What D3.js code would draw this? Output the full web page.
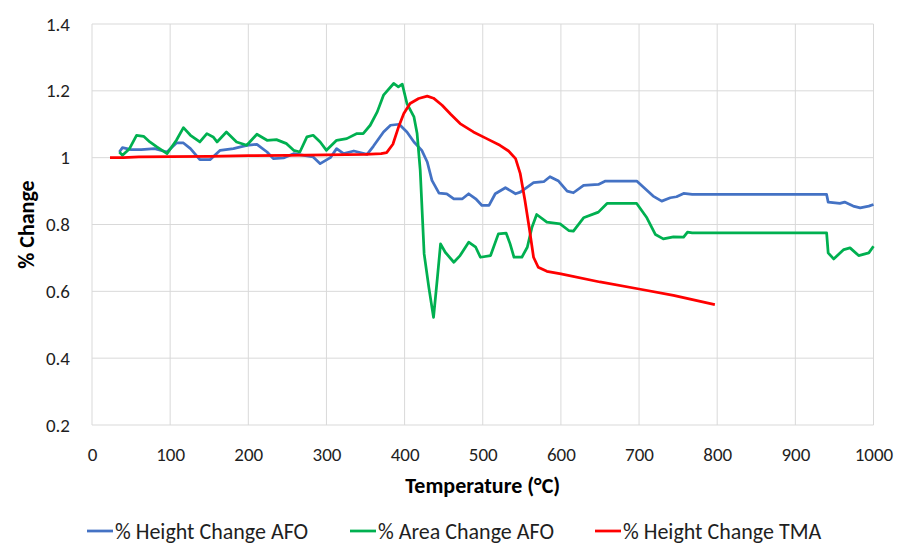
<!DOCTYPE html>
<html>
<head>
<meta charset="utf-8">
<script src="https://cdn.jsdelivr.net/npm/d3@7"></script>
<style>
  body { margin: 0; background: #fff; }
  text { font-family: Carlito, Calibri, Lato, sans-serif; }
</style>
</head>
<body>
<div id="chart"></div>
<script>
var width = 905,
    height = 548;

var margin = {top: 24, right: 31.5, bottom: 123, left: 92};

var xTicks = [0, 100, 200, 300, 400, 500, 600, 700, 800, 900, 1000];
var yTicks = [0.2, 0.4, 0.6, 0.8, 1, 1.2, 1.4];

var seriesNames = ["% Height Change AFO", "% Area Change AFO", "% Height Change TMA"];
var seriesColors = ["#4472c4", "#00b050", "#ff0000"];

// % Height Change AFO
var heightAfoT = [35, 39, 50, 63, 80, 96, 108, 117, 126, 138, 151, 164, 181, 198, 211, 224, 232, 245, 258, 271,
    283, 292, 305, 313, 322, 335, 352, 360, 373, 382, 393, 403, 412, 422, 429, 435, 444, 454, 463, 474,
    482, 491, 499, 508, 516, 529, 542, 548, 557, 565, 578, 586, 597, 608, 616, 629, 648, 657, 697, 718,
    729, 740, 748, 757, 768, 940, 942, 957, 963, 974, 983, 994, 1000];
var heightAfoV = [1.017, 1.03, 1.024, 1.024, 1.027, 1.017, 1.044, 1.044, 1.027, 0.994, 0.994, 1.022, 1.027, 1.037, 1.04, 1.017, 0.997, 0.999, 1.012, 1.007,
    1.002, 0.982, 1.0, 1.027, 1.012, 1.02, 1.01, 1.034, 1.077, 1.097, 1.1, 1.077, 1.047, 1.022, 0.987, 0.932, 0.894, 0.892, 0.877, 0.877,
    0.892, 0.877, 0.857, 0.857, 0.892, 0.91, 0.892, 0.897, 0.912, 0.925, 0.928, 0.943, 0.93, 0.9, 0.895, 0.917, 0.92, 0.93, 0.93, 0.885,
    0.87, 0.88, 0.883, 0.893, 0.89, 0.89, 0.867, 0.863, 0.867, 0.855, 0.85, 0.855, 0.86];

// % Area Change AFO
var areaAfoT = [35, 39, 48, 57, 66, 74, 83, 96, 108, 117, 126, 138, 147, 155, 160, 172, 185, 198, 211, 224,
    236, 249, 258, 266, 275, 283, 292, 300, 313, 326, 339, 347, 356, 365, 373, 386, 392, 397, 403, 412,
    416, 420, 425, 431, 437, 442, 446, 452, 463, 471, 482, 491, 497, 510, 520, 530, 535, 540, 550, 557,
    563, 569, 582, 599, 610, 616, 629, 648, 659, 697, 710, 721, 731, 744, 757, 762, 768, 940, 942, 949,
    962, 970, 981, 994, 1000];
var areaAfoV = [1.017, 1.007, 1.027, 1.067, 1.064, 1.047, 1.032, 1.012, 1.052, 1.09, 1.067, 1.047, 1.072, 1.062, 1.047, 1.077, 1.047, 1.037, 1.07, 1.052,
    1.054, 1.042, 1.022, 1.017, 1.062, 1.067, 1.047, 1.022, 1.052, 1.057, 1.072, 1.072, 1.097, 1.137, 1.187, 1.222, 1.212, 1.22, 1.162, 1.122,
    1.072, 0.962, 0.712, 0.612, 0.522, 0.642, 0.742, 0.717, 0.687, 0.707, 0.747, 0.732, 0.702, 0.707, 0.772, 0.774, 0.742, 0.702, 0.702, 0.732,
    0.792, 0.83, 0.807, 0.802, 0.782, 0.78, 0.82, 0.837, 0.863, 0.863, 0.82, 0.77, 0.757, 0.763, 0.762, 0.777, 0.775, 0.775, 0.715, 0.697,
    0.725, 0.73, 0.707, 0.715, 0.735];

// % Height Change TMA
var heightTmaT = [23, 40, 60, 100, 150, 200, 250, 300, 350, 370, 377, 385, 392, 399, 407, 418, 429, 437, 448, 459,
    471, 488, 505, 522, 533, 542, 548, 554, 560, 565, 571, 582, 600, 650, 700, 744, 797];
var heightTmaV = [1.0, 1.0, 1.002, 1.003, 1.004, 1.006, 1.007, 1.008, 1.01, 1.012, 1.015, 1.04, 1.09, 1.132, 1.162, 1.177, 1.184, 1.178, 1.157, 1.13,
    1.102, 1.077, 1.057, 1.037, 1.02, 0.997, 0.952, 0.872, 0.782, 0.702, 0.672, 0.66, 0.652, 0.628, 0.607, 0.588, 0.56];

var series = [
    {name: seriesNames[0], color: seriesColors[0], t: heightAfoT, v: heightAfoV},
    {name: seriesNames[1], color: seriesColors[1], t: areaAfoT, v: areaAfoV},
    {name: seriesNames[2], color: seriesColors[2], t: heightTmaT, v: heightTmaV}
];

var svg = d3.select("#chart").append("svg")
    .attr("width", width)
    .attr("height", height);

var x = d3.scaleLinear().domain([0, 1000]).range([margin.left, width - margin.right]);
var y = d3.scaleLinear().domain([0.2, 1.4]).range([height - margin.bottom, margin.top]);

// gridlines
svg.append("g").selectAll("line.h")
    .data(yTicks)
    .enter().append("line")
    .attr("x1", x(0)).attr("x2", x(1000))
    .attr("y1", function (d) { return y(d); })
    .attr("y2", function (d) { return y(d); })
    .attr("stroke", "#d9d9d9").attr("stroke-width", 1);

svg.append("g").selectAll("line.v")
    .data(xTicks)
    .enter().append("line")
    .attr("y1", y(0.2)).attr("y2", y(1.4))
    .attr("x1", function (d) { return x(d); })
    .attr("x2", function (d) { return x(d); })
    .attr("stroke", "#d9d9d9").attr("stroke-width", 1);

// axes (labels only)
var xAxis = svg.append("g")
    .attr("transform", "translate(0," + y(0.2) + ")")
    .call(d3.axisBottom(x).tickValues(xTicks).tickSize(0).tickPadding(23).tickFormat(d3.format("d")));
var yAxis = svg.append("g")
    .attr("transform", "translate(" + x(0) + ",0)")
    .call(d3.axisLeft(y).tickValues(yTicks).tickSize(0).tickPadding(22).tickFormat(function (d) { return String(+d.toFixed(1)); }));

[xAxis, yAxis].forEach(function (a) {
    a.select(".domain").remove();
    a.selectAll("text")
        .style("font-family", "Carlito, Calibri, Lato, sans-serif")
        .style("font-size", "19px")
        .attr("fill", "#1f1f1f");
});

// lines
var line = d3.line()
    .x(function (d) { return x(d[0]); })
    .y(function (d) { return y(d[1]); });

series.forEach(function (s) {
    var pts = s.t.map(function (t, i) { return [t, s.v[i]]; });
    svg.append("path")
        .datum(pts)
        .attr("d", line)
        .attr("fill", "none")
        .attr("stroke", s.color)
        .attr("stroke-width", 2.75)
        .attr("stroke-linejoin", "round");
});

// axis titles
svg.append("text")
    .attr("x", (x(0) + x(1000)) / 2)
    .attr("y", 493)
    .attr("text-anchor", "middle")
    .style("font-size", "22px")
    .style("font-weight", "bold")
    .text("Temperature (°C)");

svg.append("text")
    .attr("transform", "translate(34," + ((y(0.2) + y(1.4)) / 2) + ") rotate(-90)")
    .attr("text-anchor", "middle")
    .style("font-size", "22px")
    .style("font-weight", "bold")
    .text("% Change");

// legend
var legendX = [87, 350, 595];
var legend = svg.append("g");
series.forEach(function (s, i) {
    var g = legend.append("g").attr("transform", "translate(" + legendX[i] + ",531)");
    g.append("line")
        .attr("x1", 0).attr("x2", 26)
        .attr("stroke", s.color).attr("stroke-width", 2.75);
    g.append("text")
        .attr("x", 28).attr("dy", "0.35em")
        .style("font-size", "22px")
        .attr("fill", "#1f1f1f")
        .text(s.name);
});
</script>
</body>
</html>
